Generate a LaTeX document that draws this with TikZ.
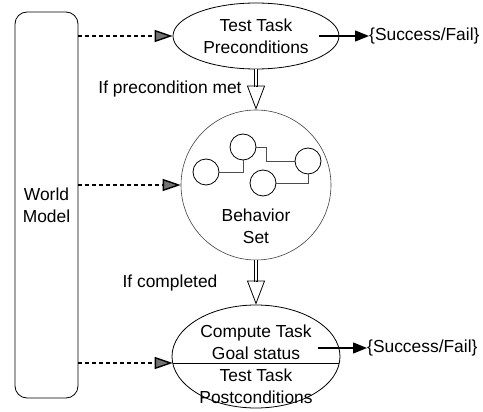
\documentclass[tikz,border=0pt]{standalone}
\usepackage{fontspec}
\setmainfont{Liberation Sans}
\usetikzlibrary{arrows.meta,shapes.geometric,calc}
\begin{document}
\begin{tikzpicture}[x=1pt,y=-1pt,
  every node/.style={font=\fontsize{17.4}{22}\selectfont, align=center, inner sep=0pt},
  box/.style={draw, line width=0.8pt, rounded corners=12pt, minimum width=63pt, minimum height=386pt},
  oval/.style={draw, ellipse, line width=0.8pt},
  behset/.style={draw, circle, line width=0.6pt, black!75, minimum size=150pt},
  sub/.style={draw, circle, line width=0.8pt, minimum size=26pt},
  link/.style={line width=0.6pt, black!70},
  feed/.style={dash pattern=on 4pt off 3pt, line width=1.4pt, -{Triangle[length=18pt,width=12pt,fill=black!55]}},
  result/.style={line width=1.4pt, -{Triangle[length=14pt,width=11pt]}},
  shaft/.style={double, double distance=2.5pt, line width=0.8pt, shorten >=23pt},
  hollowhead/.style={line width=0.8pt, -{Triangle[open,length=24pt,width=18pt]}}]
  \useasboundingbox (0,0) rectangle (483,412);
  % world model
  \node[box] (wm) at (46.5,205) {World\\Model};
  % preconditions
  \node[oval, minimum width=166pt, minimum height=66pt] (pre) at (256,36) {Test Task\\Preconditions};
  \node (s1) [anchor=west] at (369,36) {\{Success/Fail\}};
  \node (if1) at (170,89) {If precondition met};
  % behavior set
  \node[behset] (bs) at (256,185) {};
  \node (bt) at (256,226) {Behavior\\Set};
  \node[sub] (c1) at (206,172) {};
  \node[sub] (c2) at (243,147) {};
  \node[sub] (c3) at (308,161) {};
  \node[sub] (c4) at (263,183) {};
  \draw[link] (c1.east) -| (c2.south);
  \draw[link] (c2.east) -- ++(10,0) |- (c3.west);
  \draw[link] (c4.east) -| (c3.south);
  \node (if2) at (170,283) {If completed};
  % goal status / postconditions
  \node[oval, minimum width=168pt, minimum height=103pt] (goal) at (256,356.5) {};
  \node (gt) at (256,342) {Compute Task\\Goal status};
  \node (pt) at (256,386) {Test Task\\Postconditions};
  \coordinate (gl) at ($(goal.center)+(-83.3,6.5)$);
  \coordinate (gr) at ($(goal.center)+(83.3,6.5)$);
  \draw[line width=0.8pt] (gl) -- (gr);
  \node (s2) [anchor=west] at (367,348) {\{Success/Fail\}};
  \coordinate (gs) at (318,348);
  % arrows
  \draw[feed] (wm.east |- pre.west) -- (pre.west);
  \draw[feed] (wm.east |- bs.west) -- (bs.west);
  \draw[feed] (wm.east |- gl) -- (gl);
  \draw[result] ([xshift=-20pt]pre.east) -- (s1.west);
  \draw[result] (gs) -- (s2.west);
  \draw[shaft] (pre.south) -- (bs.north);
  \draw[hollowhead] ([yshift=24pt]bs.north) -- (bs.north);
  \draw[shaft] (bs.south) -- (goal.north);
  \draw[hollowhead] ([yshift=24pt]goal.north) -- (goal.north);
\end{tikzpicture}
\end{document}
